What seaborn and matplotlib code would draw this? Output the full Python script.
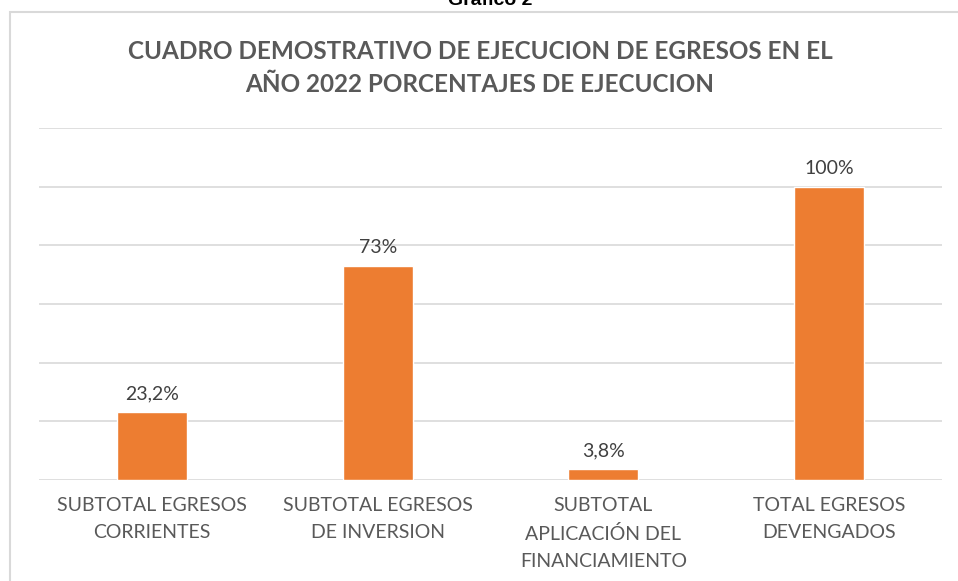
import matplotlib
matplotlib.use("Agg")
import matplotlib.pyplot as plt
import seaborn as sns
import pandas as pd
from matplotlib.patches import Rectangle

categories = ["SUBTOTAL EGRESOS\nCORRIENTES", "SUBTOTAL EGRESOS\nDE INVERSION",
              "SUBTOTAL\nAPLICACIÓN DEL\nFINANCIAMIENTO", "TOTAL EGRESOS\nDEVENGADOS"]
values = [23.2, 73, 3.8, 100]
labels = ["23,2%", "73%", "3,8%", "100%"]

sns.set_theme(style="white")
plt.rcParams['font.family'] = ['Lato', 'DejaVu Sans']

W, H = 958, 581
fig = plt.figure(figsize=(W/100, H/100), dpi=100)
ax = fig.add_axes([39.25/W, (H-480)/H, (941.75-39.25)/W, (480-128)/H])

df = pd.DataFrame({"cat": categories, "val": values})
sns.barplot(data=df, x="cat", y="val", color="#ED7D31", saturation=1, width=0.31, ax=ax, zorder=3)

ax.set_ylim(0, 120)
ax.set_yticks(range(0, 121, 20))
ax.yaxis.grid(True, color="#d9d9d9", linewidth=1.2, zorder=0)
ax.set_axisbelow(True)
for s in ax.spines.values():
    s.set_visible(False)
ax.tick_params(axis="y", left=False, labelleft=False)
ax.tick_params(axis="x", bottom=False, pad=6)
ax.set_xlabel("")
ax.set_ylabel("")
for t in ax.get_xticklabels():
    t.set_fontsize(14)
    t.set_color("#595959")
    t.set_fontweight("normal")
    t.set_linespacing(1.75)

for i, (v, lab) in enumerate(zip(values, labels)):
    ax.annotate(lab, (i, v), xytext=(0, 7), textcoords="offset points",
                ha="center", va="bottom", fontsize=14, color="#404040", fontweight="normal")

# chart border
fig.patches.append(Rectangle((10/W, -0.1), 1.2, (H-12)/H + 0.1, transform=fig.transFigure,
                             fill=False, edgecolor="#d9d9d9", linewidth=1.5))

fig.text(480/W, 1 - 68/H, "CUADRO DEMOSTRATIVO DE EJECUCION DE EGRESOS EN EL\nAÑO 2022 PORCENTAJES DE EJECUCION",
         ha="center", va="center", fontsize=17.5, fontweight="bold", color="#595959", linespacing=1.5)
fig.text(490/W, 1 - 5/H, "Gráfico 2", ha="center", va="baseline", fontsize=14, fontweight="bold",
         color="black", family=["Liberation Sans", "DejaVu Sans"])

fig.savefig("out.png", dpi=100)
